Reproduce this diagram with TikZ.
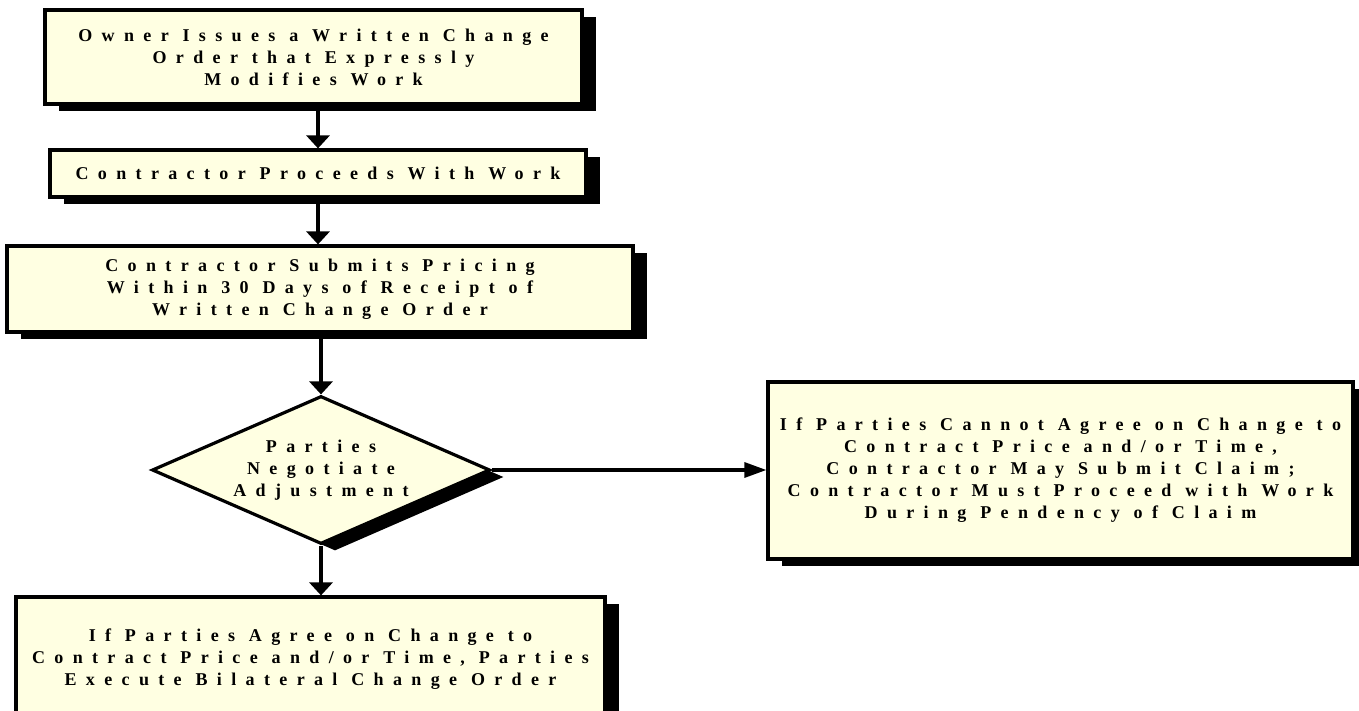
\documentclass[tikz,border=0pt]{standalone}
\usepackage{fontspec}
\setmainfont{Liberation Serif}[LetterSpace=52]
\usetikzlibrary{shapes.geometric,shadows,arrows.meta}
\definecolor{boxfill}{RGB}{255,255,226}
\tikzset{
  flow/.style={draw=black,line width=3.2pt,fill=boxfill,align=center,inner sep=0pt,
    font=\fontsize{18}{22}\selectfont\bfseries,
    drop shadow={shadow xshift=14pt,shadow yshift=-7pt,opacity=1,fill=black}},
  stepbox/.style={flow,rectangle},
  choice/.style={flow,diamond,aspect=2.3},
  arr/.style={line width=3.4pt,-{Triangle[length=13pt,width=23pt]}},
  sidearr/.style={line width=3.2pt,-{Triangle[length=22pt,width=15pt]}}
}
\begin{document}
\begin{tikzpicture}[x=1pt,y=-1pt]
    \useasboundingbox (0,0) rectangle (1359,711);
    %% steps
    \node[stepbox,minimum width=537pt,minimum height=94pt] (issue) at (313.5,57)
        {Owner Issues a Written Change\\Order that Expressly\\Modifies Work};
    \node[stepbox,minimum width=536pt,minimum height=47pt] (proceed) at (318,173.5)
        {Contractor Proceeds With Work};
    \node[stepbox,minimum width=626pt,minimum height=86pt] (pricing) at (320,289)
        {Contractor Submits Pricing\\Within 30 Days of Receipt of\\Written Change Order};
    \node[choice,minimum width=338pt,minimum height=148pt] (negotiate) at (321,470)
        {Parties\\Negotiate\\Adjustment};
    \node[stepbox,minimum width=585pt,minimum height=177pt] (claim) at (1060.5,470.5)
        {If Parties Cannot Agree on Change to\\Contract Price and/or Time,\\Contractor May Submit Claim;\\Contractor Must Proceed with Work\\During Pendency of Claim};
    \node[stepbox,minimum width=589pt,minimum height=124pt] (agree) at (310.5,659)
        {If Parties Agree on Change to\\Contract Price and/or Time, Parties\\Execute Bilateral Change Order};
    %% connectors
    \draw[arr] (issue.south -| proceed) -- (proceed.north);
    \draw[arr] (proceed.south) -- (pricing.north -| proceed);
    \draw[arr] (pricing.south -| negotiate) -- (negotiate.north);
    \draw[arr] (negotiate.south) -- (agree.north -| negotiate);
    \draw[sidearr] (negotiate.east) -- (claim.west |- negotiate.east);
\end{tikzpicture}
\end{document}
